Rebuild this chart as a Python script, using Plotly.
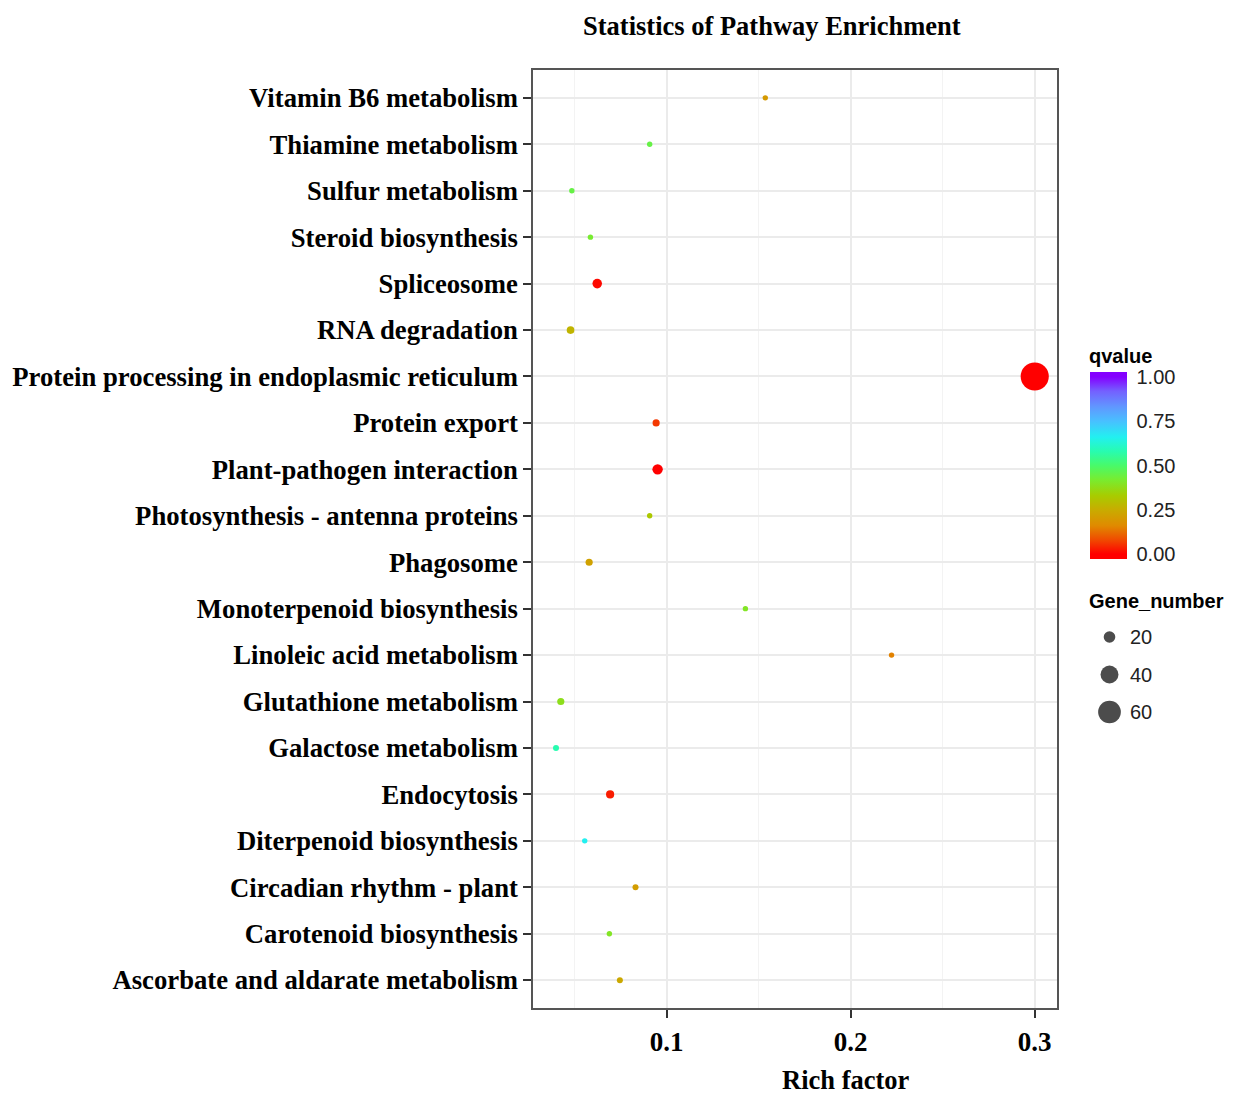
import plotly.graph_objects as go
import numpy as np

# ---- data (top to bottom as shown) ----
pathways = [
    "Vitamin B6 metabolism", "Thiamine metabolism", "Sulfur metabolism",
    "Steroid biosynthesis", "Spliceosome", "RNA degradation",
    "Protein processing in endoplasmic reticulum", "Protein export",
    "Plant-pathogen interaction", "Photosynthesis - antenna proteins",
    "Phagosome", "Monoterpenoid biosynthesis", "Linoleic acid metabolism",
    "Glutathione metabolism", "Galactose metabolism", "Endocytosis",
    "Diterpenoid biosynthesis", "Circadian rhythm - plant",
    "Carotenoid biosynthesis", "Ascorbate and aldarate metabolism",
]
rich_factor = [0.1536, 0.0908, 0.0485, 0.0586, 0.0623, 0.0478, 0.3000, 0.0943,
               0.0951, 0.0908, 0.0579, 0.1428, 0.2222, 0.0425, 0.0399, 0.0693,
               0.0555, 0.0831, 0.0689, 0.0746]
qvalue = [0.20, 0.45, 0.45, 0.42, 0.01, 0.27, 0.00, 0.06, 0.00, 0.32,
          0.22, 0.40, 0.15, 0.38, 0.58, 0.03, 0.66, 0.21, 0.40, 0.24]
gene_number = [7, 7, 7, 7, 15, 11, 87, 10, 17, 7,
               10, 7, 7, 10, 8, 12, 7, 8, 7, 8]

size_breaks = [20, 40, 60]
q_ticks = [0.0, 0.25, 0.5, 0.75, 1.0]
x_ticks = [0.1, 0.2, 0.3]
x_minor = [0.05, 0.15, 0.25]


def size_scale(v):
    return -3.6 + 3.4 * np.sqrt(np.asarray(v, dtype=float))


# colour stops by q value
q_stops = [0.00, 0.08, 0.16, 0.25, 0.33, 0.42, 0.50, 0.58, 0.66, 0.75, 0.83, 0.92, 1.00]
q_cols = ["#FF0000", "#F04A00", "#E08A00", "#C8AC00", "#A8CC00", "#78EC30", "#48FA6A",
          "#28FCB0", "#22F0F0", "#48C0FF", "#6098FF", "#7460FF", "#8400FF"]
PAD = 0.028  # guide bar extends a little beyond the limits (ggplot-style)
CMIN, CMAX = -PAD, 1 + PAD
colorscale = [[0.0, q_cols[0]]] + \
    [[(s - CMIN) / (CMAX - CMIN), c] for s, c in zip(q_stops, q_cols)] + \
    [[1.0, q_cols[-1]]]

OFF = 8  # page body margin
W, H = 1233 - OFF, 1094 - OFF
ML, MR, MT, MB = 533 - OFF, 0, 70 - OFF, 86
PW = W - ML - MR
PH = H - MT - MB


def px_x(px):
    return (px - OFF - ML) / PW


def px_y(py):
    return (H - MB - (py - OFF)) / PH


serif = "Liberation Serif"
sans = "Liberation Sans"

fig = go.Figure()
fig.add_trace(go.Scatter(
    x=rich_factor, y=pathways, mode="markers", showlegend=False,
    marker=dict(
        size=size_scale(gene_number), color=qvalue, colorscale=colorscale,
        cmin=CMIN, cmax=CMAX, line=dict(width=0), opacity=1,
        colorbar=dict(
            thickness=37, len=187, lenmode="pixels",
            x=px_x(1090), xanchor="left", xpad=0,
            y=px_y(372), yanchor="top", ypad=0,
            outlinewidth=0, tickvals=q_ticks,
            ticktext=[f"{t:.2f}" for t in q_ticks],
            ticks="outside", ticklen=6, tickcolor="white",
            tickfont=dict(family=sans, size=20, color="#222"),
        ),
    ),
    hovertemplate="%{y}<br>Rich factor %{x}<extra></extra>",
))

# size legend drawn with same size scale
fig.add_trace(go.Scatter(
    x=[0] * len(size_breaks), y=[str(s) for s in size_breaks],
    mode="markers", showlegend=False, xaxis="x2", yaxis="y2",
    marker=dict(size=size_scale(size_breaks), color="black", line=dict(width=0)),
    hoverinfo="skip",
))

cats_bottom_up = pathways[::-1]
fig.update_layout(
    width=W, height=H,
    margin=dict(l=ML, r=MR, t=MT, b=MB),
    paper_bgcolor="white", plot_bgcolor="white",
    xaxis=dict(
        domain=[0, 524 / PW], range=[0.0274, 0.3121],
        tickvals=x_ticks, ticktext=[str(t) for t in x_ticks],
        tickfont=dict(family=serif, size=27, color="black", weight="bold"),
        ticks="outside", ticklen=8, tickwidth=1.5, tickcolor="#333",
        ticklabelstandoff=1,
        showgrid=True, gridcolor="#EBEBEB", gridwidth=1.5,
        minor=dict(tickvals=x_minor, showgrid=True, gridcolor="#F3F3F3",
                   gridwidth=1, ticks=""),
        showline=True, linecolor="#555", linewidth=1.5, mirror=True,
        zeroline=False,
    ),
    yaxis=dict(
        type="category", categoryorder="array", categoryarray=cats_bottom_up,
        range=[-0.6, len(pathways) - 0.4],
        tickfont=dict(family=serif, size=26.7, color="black", weight="bold"),
        ticks="outside", ticklen=8, tickwidth=1.5, tickcolor="#333",
        showgrid=True, gridcolor="#EBEBEB", gridwidth=1.5,
        showline=True, linecolor="#555", linewidth=1.5, mirror=True,
        zeroline=False,
    ),
    xaxis2=dict(domain=[px_x(1090), px_x(1129)], range=[-1, 1], anchor="y2",
                visible=False, fixedrange=True),
    yaxis2=dict(
        domain=[px_y(730.75), px_y(618.25)], anchor="x2", side="right",
        type="category", categoryorder="array",
        categoryarray=[str(s) for s in size_breaks][::-1],
        range=[-0.5, 2.5], showgrid=False, showline=False, zeroline=False,
        ticks="", tickfont=dict(family=sans, size=20, color="#222"),
        fixedrange=True,
    ),
    annotations=[
        dict(text="Statistics of Pathway Enrichment", xref="paper", yref="paper",
             x=px_x(772), y=px_y(26), xanchor="center", yanchor="middle",
             showarrow=False,
             font=dict(family=serif, size=26.5, color="black", weight="bold")),
        dict(text="Rich factor", xref="paper", yref="paper",
             x=px_x(846), y=px_y(1080), xanchor="center", yanchor="middle",
             showarrow=False,
             font=dict(family=serif, size=26.5, color="black", weight="bold")),
        dict(text="qvalue", xref="paper", yref="paper",
             x=px_x(1087), y=px_y(356), xanchor="left", yanchor="middle",
             showarrow=False,
             font=dict(family=sans, size=20, color="black", weight="bold")),
        dict(text="Gene_number", xref="paper", yref="paper",
             x=px_x(1087), y=px_y(601), xanchor="left", yanchor="middle",
             showarrow=False,
             font=dict(family=sans, size=20, color="black", weight="bold")),
    ],
)

fig.write_html("out.html")
